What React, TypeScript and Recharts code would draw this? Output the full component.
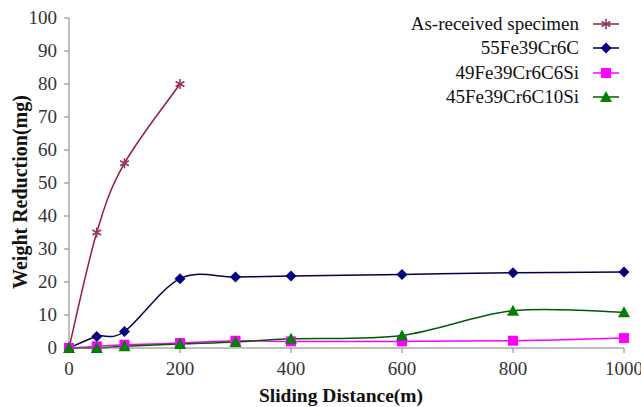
import { Label, Line, LineChart, XAxis, YAxis } from "recharts";

document.body.style.margin = "0";

const distance = [0, 50, 100, 200, 300, 400, 600, 800, 1000];
const asReceived = [0, 35, 56, 80];
const fe55 = [0, 3.5, 5, 21, 21.5, 21.8, 22.3, 22.8, 23];
const fe49 = [0, 0.5, 1, 1.5, 2.2, 2, 2, 2.2, 3];
const fe45 = [0, 0, 0.5, 1.2, 1.8, 2.8, 3.8, 11.3, 10.8];
const xTicks = [0, 200, 400, 600, 800, 1000];
const yTicks = [0, 10, 20, 30, 40, 50, 60, 70, 80, 90, 100];

const data = distance.map((d, i) => ({
  d,
  asReceived: asReceived[i],
  fe55: fe55[i],
  fe49: fe49[i],
  fe45: fe45[i]
}));

const serif = "Liberation Serif";

const series = [
  { key: "asReceived", name: "As-received specimen", line: "#9B1B3C", mark: "#993366", shape: "star" },
  { key: "fe55", name: "55Fe39Cr6C", line: "#00004D", mark: "#000080", shape: "diamond" },
  { key: "fe49", name: "49Fe39Cr6C6Si", line: "#FF00FF", mark: "#FF00FF", shape: "square" },
  { key: "fe45", name: "45Fe39Cr6C10Si", line: "#005A00", mark: "#008000", shape: "triangle" }
];

// Excel-like smoothed line (uniform Catmull-Rom through the points)
function smooth(context: any) {
  let pts: number[][] = [];
  return {
    areaStart() {},
    areaEnd() {},
    lineStart() {
      pts = [];
    },
    point(x: number, y: number) {
      pts.push([+x, +y]);
    },
    lineEnd() {
      if (!pts.length) return;
      context.moveTo(pts[0][0], pts[0][1]);
      for (let i = 0; i < pts.length - 1; i++) {
        const p0 = pts[Math.max(i - 1, 0)];
        const p1 = pts[i];
        const p2 = pts[i + 1];
        const p3 = pts[Math.min(i + 2, pts.length - 1)];
        context.bezierCurveTo(
          p1[0] + (p2[0] - p0[0]) / 6,
          p1[1] + (p2[1] - p0[1]) / 6,
          p2[0] - (p3[0] - p1[0]) / 6,
          p2[1] - (p3[1] - p1[1]) / 6,
          p2[0],
          p2[1]
        );
      }
    }
  };
}

function Marker(props: { cx?: number; cy?: number; shape: string; color: string }) {
  const { cx, cy, shape, color } = props;
  if (cx == null || cy == null) return null;
  if (shape === "star") {
    const r = 5;
    return (
      <g stroke={color} strokeWidth={1.6}>
        <line x1={cx} y1={cy - r} x2={cx} y2={cy + r} />
        <line x1={cx - r * 0.87} y1={cy - r / 2} x2={cx + r * 0.87} y2={cy + r / 2} />
        <line x1={cx - r * 0.87} y1={cy + r / 2} x2={cx + r * 0.87} y2={cy - r / 2} />
      </g>
    );
  }
  if (shape === "diamond") {
    const r = 5.5;
    return <path d={`M${cx},${cy - r}L${cx + r},${cy}L${cx},${cy + r}L${cx - r},${cy}Z`} fill={color} />;
  }
  if (shape === "square") {
    return <rect x={cx - 5} y={cy - 5} width={10} height={10} fill={color} />;
  }
  return <path d={`M${cx},${cy - 6}L${cx + 6},${cy + 5}L${cx - 6},${cy + 5}Z`} fill={color} />;
}

function LegendBox() {
  return (
    <div style={{ position: "absolute", top: 12, right: 20, fontSize: 19, color: "#111" }}>
      {series.map((s) => (
        <div key={s.key} style={{ display: "flex", justifyContent: "flex-end", alignItems: "center", height: 24.3 }}>
          <span>{s.name}</span>
          <svg width={30} height={14} style={{ marginLeft: 12 }}>
            <line x1={2} y1={7} x2={28} y2={7} stroke={s.line} strokeWidth={1.5} />
            <Marker cx={15} cy={7} shape={s.shape} color={s.mark} />
          </svg>
        </div>
      ))}
    </div>
  );
}

function XTick(p: any) {
  return (
    <text x={p.x} y={p.y + 20} textAnchor="middle" fontFamily={serif} fontSize={19} fill="#333">
      {p.payload.value}
    </text>
  );
}

function YTick(p: any) {
  return (
    <text x={p.x - 5} y={p.y + 6} textAnchor="end" fontFamily={serif} fontSize={19} fill="#333">
      {p.payload.value}
    </text>
  );
}

export default function App() {
  return (
    <div style={{ position: "relative", width: 641, height: 407, background: "#fff", fontFamily: serif }}>
      <LineChart
        width={641}
        height={407}
        data={data}
        margin={{ top: 18, right: 17, left: 0, bottom: 0 }}
        style={{ fontFamily: serif }}
      >
        <XAxis
          dataKey="d"
          type="number"
          domain={[0, 1000]}
          ticks={xTicks}
          height={59}
          stroke="#808080"
          tickSize={5}
          tick={<XTick />}
        >
          <Label
            content={() => (
              <text x={341} y={402} textAnchor="middle" fontFamily={serif} fontWeight="bold" fontSize={19.5} fill="#111">
                Sliding Distance(m)
              </text>
            )}
          />
        </XAxis>
        <YAxis
          type="number"
          domain={[0, 100]}
          ticks={yTicks}
          width={69}
          stroke="#808080"
          tickSize={5}
          interval={0}
          tick={<YTick />}
        >
          <Label
            content={() => (
              <text
                x={27}
                y={192}
                textAnchor="middle"
                transform="rotate(-90, 27, 192)"
                fontFamily={serif}
                fontWeight="bold"
                fontSize={20}
                fill="#111"
              >
                Weight Reduction(mg)
              </text>
            )}
          />
        </YAxis>
        {series.map((s) => (
          <Line
            key={s.key}
            dataKey={s.key}
            name={s.name}
            type={smooth as any}
            stroke={s.line}
            strokeWidth={1.5}
            isAnimationActive={false}
            dot={(p: any) => <Marker key={`${s.key}-${p.index}`} cx={p.cx} cy={p.cy} shape={s.shape} color={s.mark} />}
            activeDot={false}
          />
        ))}
      </LineChart>
      <LegendBox />
    </div>
  );
}
